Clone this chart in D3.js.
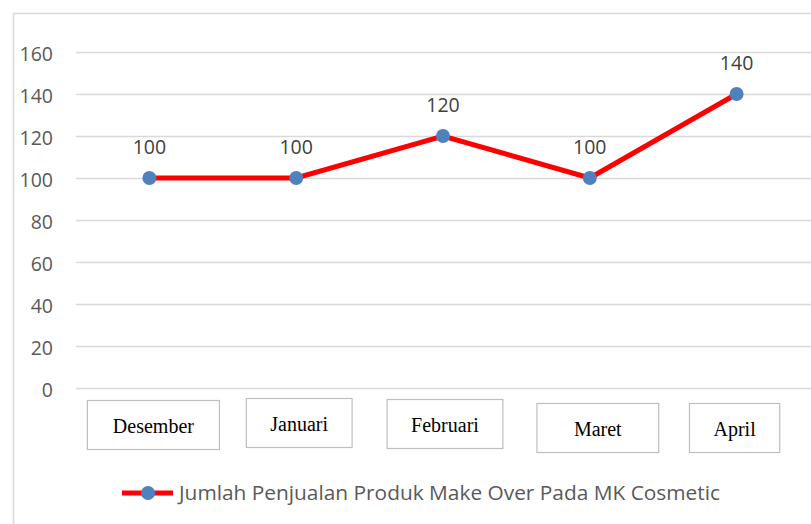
<!DOCTYPE html>
<html>
<head>
<meta charset="utf-8">
<script src="https://cdn.jsdelivr.net/npm/d3@7"></script>
<style>
  html, body { margin: 0; padding: 0; background: #fff; }
  svg { display: block; }
</style>
</head>
<body>
<svg id="chart"></svg>
<script>
const W = 811;
const H = 524;

const months = ["Desember", "Januari", "Februari", "Maret", "April"];
const sales = [100, 100, 120, 100, 140];
const yTicks = [0, 20, 40, 60, 80, 100, 120, 140, 160];
const seriesName = "Jumlah Penjualan Produk Make Over Pada MK Cosmetic";

// hand-placed label boxes in the original: [dx, dy, extra width]
const boxTweak = [[4, 0, 3], [3, -2, 0], [2, -1, 0], [8, 3, 26], [-2, 3, 0]];

const margin = { left: 76, right: 1, top: 52, bottom: 136 };
const sans = "'Open Sans', 'Noto Sans', sans-serif";

let svg = d3.select("#chart").attr("width", W).attr("height", H);

// outer frame
svg.append("rect")
	.attr("x", 13.5).attr("y", 13.5)
	.attr("width", W + 10).attr("height", H + 10)
	.attr("fill", "none").attr("stroke", "#d9d9d9").attr("stroke-width", 1.5);

let x = d3.scalePoint().domain(months).range([margin.left, W - margin.right]).padding(0.5);
let y = d3.scaleLinear().domain([0, 160]).range([H - margin.bottom, margin.top]);

// gridlines + y tick labels
let yAxis = svg.append("g")
	.attr("transform", `translate(${margin.left},0)`)
	.call(d3.axisLeft(y).tickValues(yTicks).tickSize(-(W - margin.left)).tickPadding(23));
yAxis.select(".domain").remove();
yAxis.selectAll(".tick line").attr("stroke", "#d9d9d9").attr("stroke-width", 1.5);
yAxis.selectAll(".tick text")
	.attr("fill", "#595959")
	.attr("dy", "0.45em")
	.style("font-family", sans)
	.style("font-size", "19.5px");

// line
svg.append("path")
	.datum(sales)
	.attr("fill", "none")
	.attr("stroke", "#ff0000")
	.attr("stroke-width", 5)
	.attr("d", d3.line().x((d, i) => x(months[i])).y(d => y(d)));

// markers
svg.selectAll("circle.pt").data(sales).enter().append("circle")
	.attr("class", "pt")
	.attr("cx", (d, i) => x(months[i]))
	.attr("cy", d => y(d))
	.attr("r", 7)
	.attr("fill", "#4f81bd");

// data labels
svg.selectAll("text.lbl").data(sales).enter().append("text")
	.attr("class", "lbl")
	.attr("x", (d, i) => x(months[i]))
	.attr("y", d => y(d) - 24)
	.attr("text-anchor", "middle")
	.attr("fill", "#404040")
	.style("font-family", sans)
	.style("font-size", "19.5px")
	.text(d => d);

// category labels in boxes
let cat = svg.selectAll("g.cat").data(months).enter().append("g").attr("class", "cat");
cat.each(function(m, i) {
	let g = d3.select(this);
	let t = boxTweak[i];
	let cx = x(m) + t[0];
	let txt = g.append("text")
		.attr("x", cx)
		.attr("y", 433 + t[1])
		.attr("text-anchor", "middle")
		.attr("fill", "#000")
		.style("font-family", "'Liberation Serif', 'Times New Roman', serif")
		.style("font-size", "20px")
		.text(m);
	let w = txt.node().getComputedTextLength() + 48 + t[2];
	g.insert("rect", "text")
		.attr("x", cx - w / 2)
		.attr("y", 400.5 + t[1])
		.attr("width", w)
		.attr("height", 49)
		.attr("fill", "#fff")
		.attr("stroke", "#bfbfbf")
		.attr("stroke-width", 1.2);
});

// legend
let leg = svg.append("g").attr("transform", "translate(122,493)");
leg.append("line").attr("x1", 0).attr("x2", 51).attr("y1", 0).attr("y2", 0)
	.attr("stroke", "#ff0000").attr("stroke-width", 5);
leg.append("circle").attr("cx", 26).attr("cy", 0).attr("r", 7).attr("fill", "#4f81bd");
leg.append("text")
	.attr("x", 57).attr("y", 0).attr("dy", "0.35em")
	.attr("fill", "#595959")
	.style("font-family", sans)
	.style("font-size", "20px")
	.attr("textLength", 541)
	.attr("lengthAdjust", "spacingAndGlyphs")
	.text(seriesName);
</script>
</body>
</html>
